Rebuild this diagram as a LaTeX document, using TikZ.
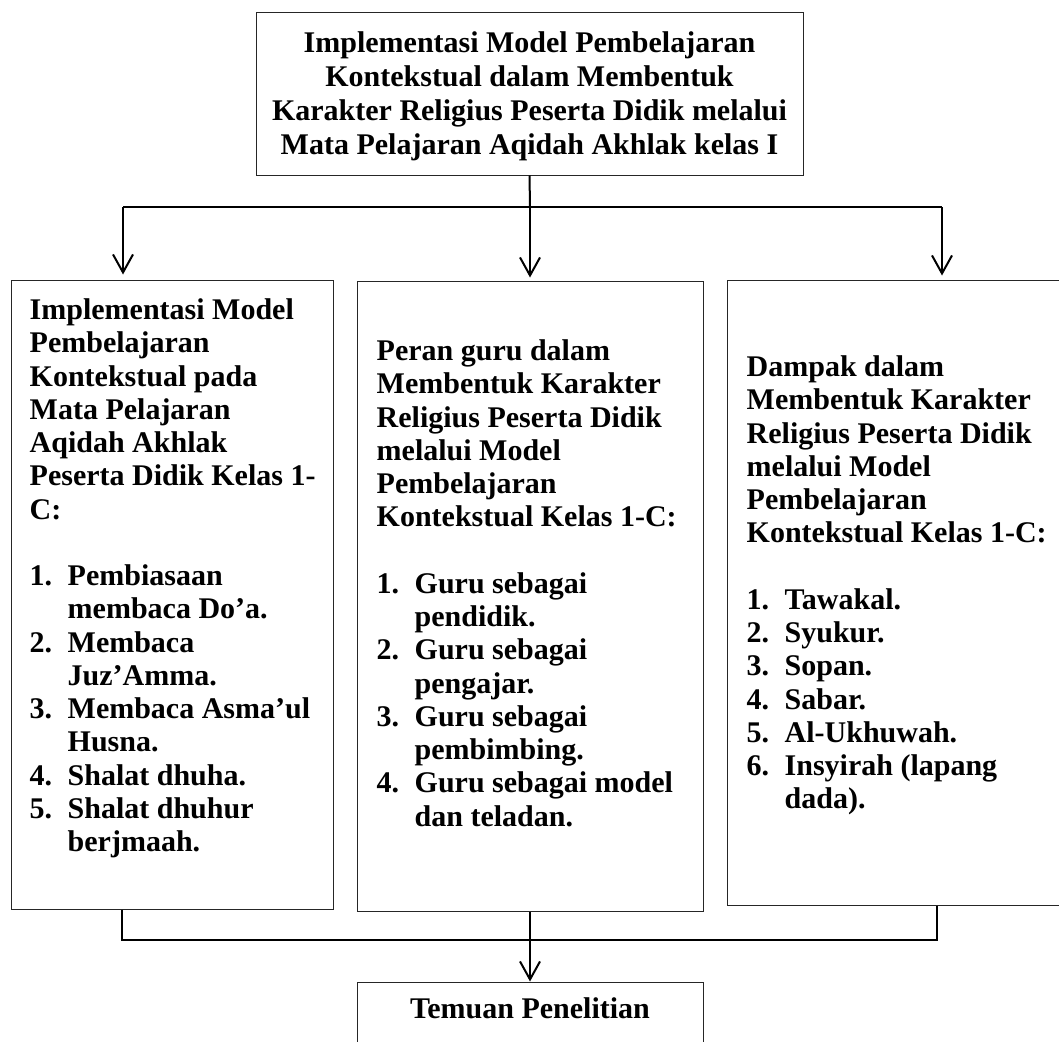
\documentclass[tikz,border=0pt]{standalone}
\usepackage{fontspec}
\setmainfont{Liberation Serif}
\usetikzlibrary{arrows.meta,positioning}

\begin{document}
\begin{tikzpicture}[
        x=1pt, y=-1pt,
        box/.style={draw=black!85, line width=1pt, inner sep=0pt},
        txt/.style={align=left, inner sep=0pt, font=\fontsize{30}{33.25}\selectfont\bfseries},
        link/.style={line width=2pt},
        arr/.style={line width=2pt, -{Straight Barb[length=18pt,width=20pt,line width=2pt]}}
    ]
    \useasboundingbox (0,0) rectangle (1059,1041);

    % Nodes
    \node[box, minimum width=547pt, minimum height=162pt] (top) at (529.5,94) {};
    \node[txt, align=center, font=\fontsize{30}{34}\selectfont\bfseries] (toptxt) at ([yshift=-2pt]top.center) {Implementasi Model Pembelajaran\\
        Kontekstual dalam Membentuk\\
        Karakter Religius Peserta Didik melalui\\
        Mata Pelajaran Aqidah Akhlak kelas I};

    \node[box, minimum width=322pt, minimum height=629pt] (left) at (172,594.5) {};
    \node[txt, anchor=north west] (lefttxt) at ([shift={(19,19)}]left.north west) {Implementasi Model\\
        Pembelajaran\\
        Kontekstual pada\\
        Mata Pelajaran\\
        Aqidah Akhlak\\
        Peserta Didik Kelas 1-\\
        C:\\[33.25pt]
        \makebox[38pt][l]{1.}Pembiasaan\\
        \hspace*{38pt}membaca Do’a.\\
        \makebox[38pt][l]{2.}Membaca\\
        \hspace*{38pt}Juz’Amma.\\
        \makebox[38pt][l]{3.}Membaca Asma’ul\\
        \hspace*{38pt}Husna.\\
        \makebox[38pt][l]{4.}Shalat dhuha.\\
        \makebox[38pt][l]{5.}Shalat dhuhur\\
        \hspace*{38pt}berjmaah.};

    \node[box, minimum width=346pt, minimum height=630pt] (mid) at (530,596) {};
    \node[txt, anchor=north west] (midtxt) at ([shift={(20,59)}]mid.north west) {Peran guru dalam\\
        Membentuk Karakter\\
        Religius Peserta Didik\\
        melalui Model\\
        Pembelajaran\\
        Kontekstual Kelas 1-C:\\[33.25pt]
        \makebox[38pt][l]{1.}Guru sebagai\\
        \hspace*{38pt}pendidik.\\
        \makebox[38pt][l]{2.}Guru sebagai\\
        \hspace*{38pt}pengajar.\\
        \makebox[38pt][l]{3.}Guru sebagai\\
        \hspace*{38pt}pembimbing.\\
        \makebox[38pt][l]{4.}Guru sebagai model\\
        \hspace*{38pt}dan teladan.};

    \node[box, minimum width=338pt, minimum height=625pt] (right) at (896,592.5) {};
    \node[txt, anchor=north west] (righttxt) at ([shift={(20,76)}]right.north west) {Dampak dalam\\
        Membentuk Karakter\\
        Religius Peserta Didik\\
        melalui Model\\
        Pembelajaran\\
        Kontekstual Kelas 1-C:\\[33.25pt]
        \makebox[38pt][l]{1.}Tawakal.\\
        \makebox[38pt][l]{2.}Syukur.\\
        \makebox[38pt][l]{3.}Sopan.\\
        \makebox[38pt][l]{4.}Sabar.\\
        \makebox[38pt][l]{5.}Al-Ukhuwah.\\
        \makebox[38pt][l]{6.}Insyirah (lapang\\
        \hspace*{38pt}dada).};

    \node[box, minimum width=346pt, minimum height=108pt] (bottom) at (530,1036) {};
    \node[txt, anchor=base] (bottomtxt) at (530,1018) {Temuan Penelitian};

    % Edges
    \coordinate (split) at (530,207);
    \coordinate (splitL) at (123,207);
    \coordinate (splitR) at (942,207);
    \coordinate (joinL) at (122,940);
    \coordinate (joinR) at (937,940);

    \draw[link] (top.south) -- (split);
    \draw[link] (splitL) -- (splitR);
    \draw[arr, shorten >=3pt] (split) -- (mid.north);
    \draw[arr, shorten >=5pt] (splitL) -- (splitL |- left.north);
    \draw[arr, shorten >=4pt] (splitR) -- (splitR |- right.north);

    \draw[link] (joinL |- left.south) -- (joinL) -- (joinR) -- (joinR |- right.south);
    \draw[arr] (mid.south) -- (bottom.north);

\end{tikzpicture}
\end{document}
